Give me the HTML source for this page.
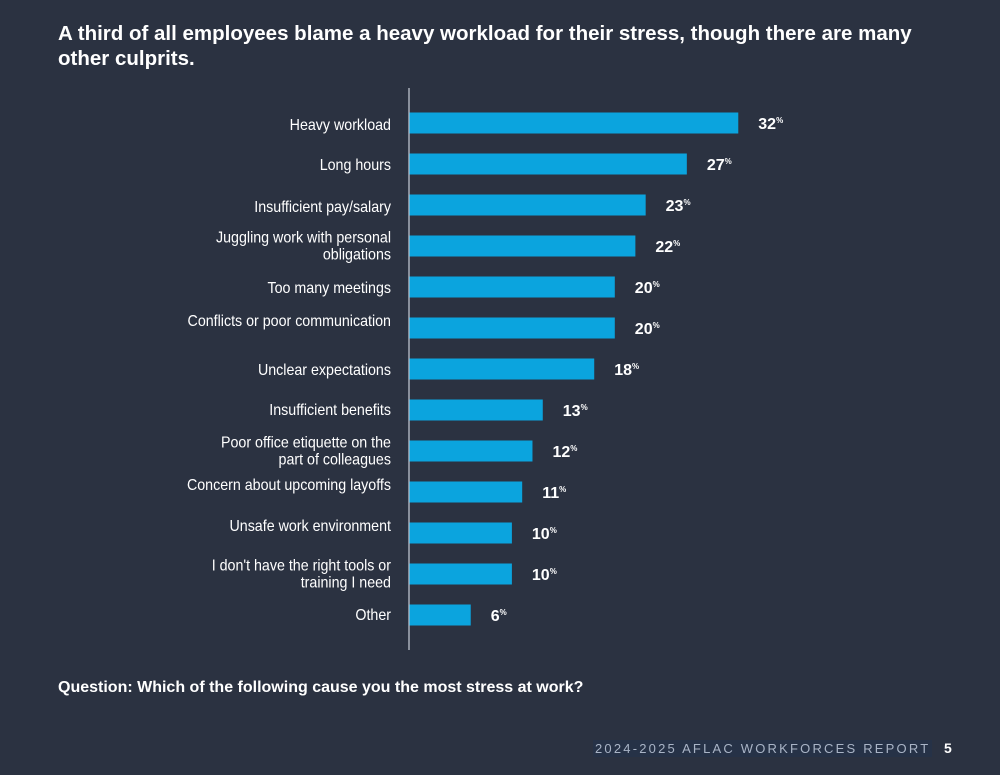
<!DOCTYPE html>
<html><head><meta charset="utf-8"><style>
body{margin:0;background:#2b3241;}
#wrap{position:relative;width:1000px;height:775px;background:#2b3241;font-family:"Liberation Sans",sans-serif;color:#fff;overflow:hidden}
#title{position:absolute;left:58px;top:21px;width:900px;font-size:20.5px;font-weight:bold;line-height:25px}
#question{position:absolute;left:58px;top:679px;font-size:16px;font-weight:bold}
#footer{position:absolute;left:593px;top:740px;font-size:13px;letter-spacing:2.2px;color:#a9b4c6;background:#263247;padding:1px 2px}
#pagenum{position:absolute;left:944px;top:740px;font-size:14px;font-weight:bold}
svg{position:absolute;left:0;top:0}
</style></head><body>
<div id="wrap">
<div id="title">A third of all employees blame a heavy workload for their stress, though there are many other culprits.</div>
<svg id="chart" width="1000" height="775"></svg>
<div id="question">Question: Which of the following cause you the most stress at work?</div>
<div id="footer">2024-2025 AFLAC WORKFORCES REPORT</div>
<div id="pagenum">5</div>
</div>
<script>
const categories=[["Heavy workload"],["Long hours"],["Insufficient pay/salary"],["Juggling work with personal","obligations"],["Too many meetings"],["Conflicts or poor communication"],["Unclear expectations"],["Insufficient benefits"],["Poor office etiquette on the","part of colleagues"],["Concern about upcoming layoffs"],["Unsafe work environment"],["I don't have the right tools or","training I need"],["Other"]];
const values=[32,27,23,22,20,20,18,13,12,11,10,10,6];
const labelShift=[2,1,2,0,1,-7,1,0,0,-7,-7,0,0];
const NS="http://www.w3.org/2000/svg";
const svg=document.getElementById('chart');
const x0=409, pxPer=10.29, y0=123, step=41, bh=21;
const xs=v=>x0+v*pxPer;
const ys=i=>y0+i*step;
function mk(tag,attrs,parent){const e=document.createElementNS(NS,tag);for(const k in attrs)e.setAttribute(k,attrs[k]);(parent||svg).appendChild(e);return e;}
const ax=mk('line',{x1:x0,x2:x0,y1:88,y2:650,stroke:'#c9ced8','stroke-width':1.2});


const lg=mk('g',{transform:'translate(391,0) scale(0.92,1) translate(-391,0)'});


values.forEach((v,i)=>{
  const r=mk('rect',{x:x0+0.5,y:ys(i)-bh/2,width:xs(v)-x0-0.5,height:bh,fill:'#0ba4de'});
  
  
  const t=mk('text',{x:xs(v)+20,y:ys(i)+6,fill:'#fff','font-size':16,'font-weight':'bold','font-family':'Liberation Sans, sans-serif'});
  
  
  t.textContent=v;
  const s=document.createElementNS(NS,'tspan');s.setAttribute('font-size',8);s.setAttribute('dy',-6);s.textContent='%';t.appendChild(s);
  const lines=categories[i];
  const cy=ys(i)+labelShift[i];
  lines.forEach((ln,j)=>{
    const yy=cy+5+(j-(lines.length-1)/2)*17;
    const l=mk('text',{x:391,y:yy,fill:'#fff','font-size':15.5,'text-anchor':'end','font-family':'Liberation Sans, sans-serif'},lg);
    
    
    l.textContent=ln;
  });
});
</script>
</body></html>
